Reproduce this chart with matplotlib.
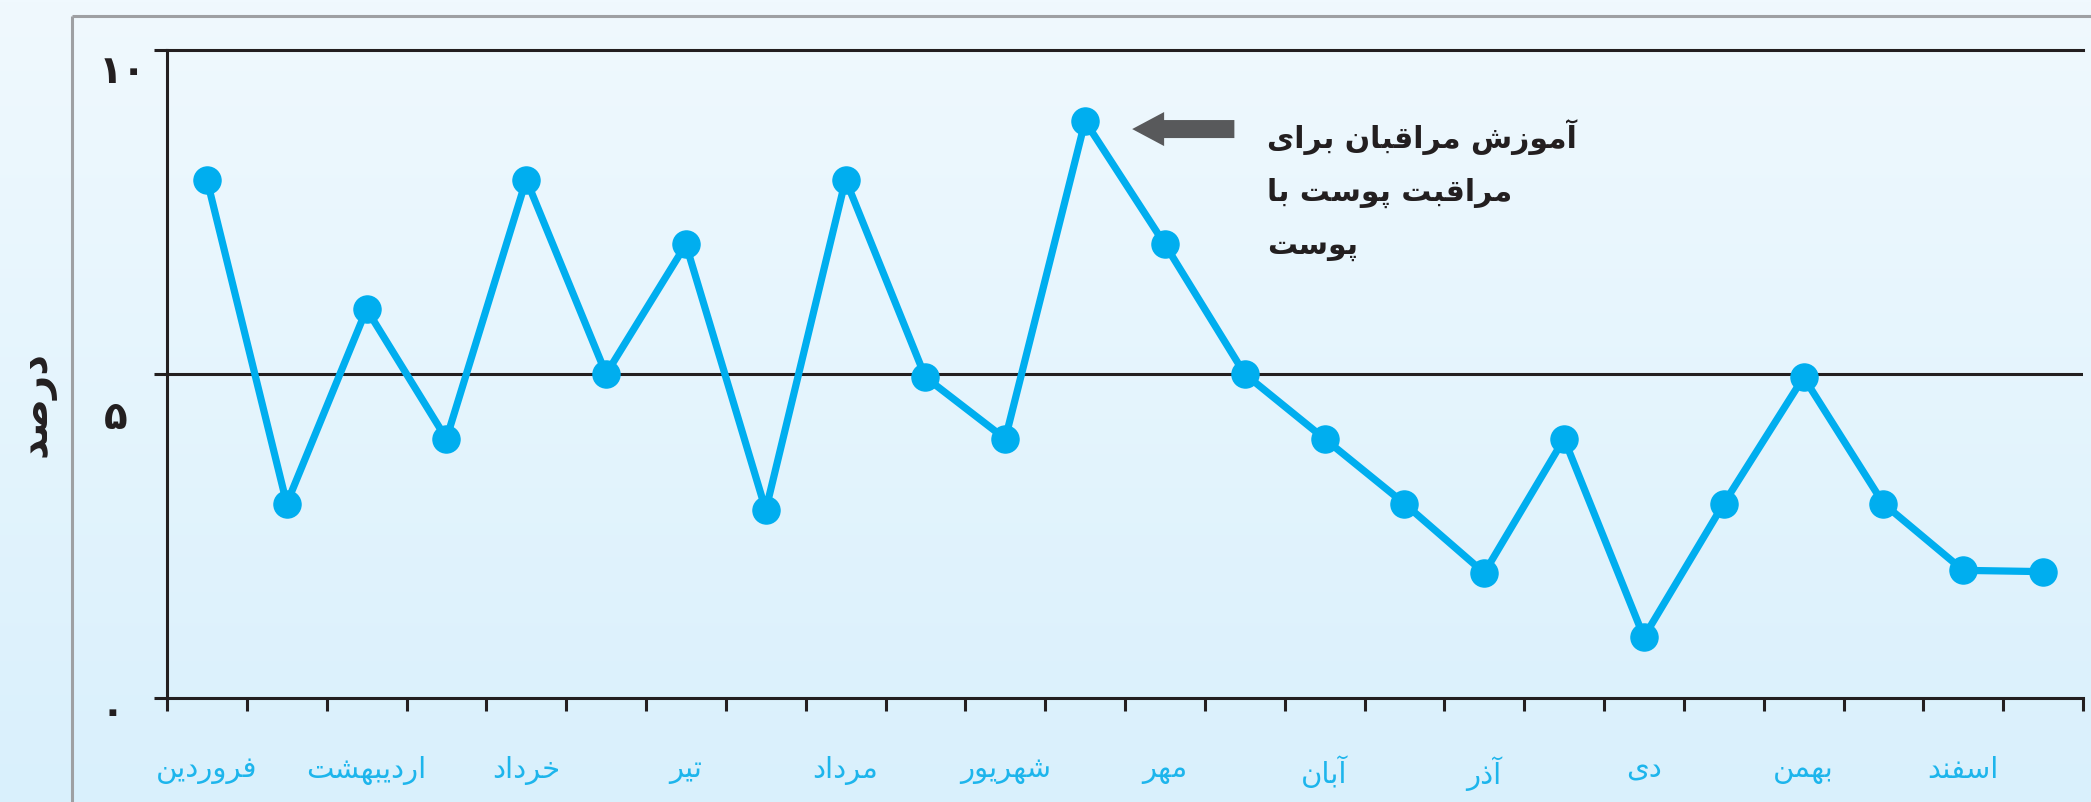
import numpy as np
import matplotlib
matplotlib.use("Agg")
import matplotlib.pyplot as plt
from matplotlib.patches import FancyArrow

# half-month points (24), values in percent
values = [8, 3, 6, 4, 8, 5, 7, 2.9, 8, 4.95, 4, 8.9,
          7, 5, 4, 3, 1.93, 4, 0.94, 3, 4.95, 3, 1.97, 1.95]
months = ["فروردین", "اردیبهشت", "خرداد", "تیر", "مرداد", "شهریور",
          "مهر", "آبان", "آذر", "دی", "بهمن", "اسفند"]
y_ticks = [0, 5, 10]
y_tick_labels = ["۰", "۵", "۱۰"]
y_label = "درصد"
note_lines = ["آموزش مراقبان برای", "مراقبت پوست با", "پوست"]

# presentation forms: isolated, final, initial, medial
FORMS = {
    'ا': ('\uFE8D', '\uFE8E', None, None),
    'آ': ('\uFE81', '\uFE82', None, None),
    'د': ('\uFEA9', '\uFEAA', None, None),
    'ذ': ('\uFEAB', '\uFEAC', None, None),
    'ر': ('\uFEAD', '\uFEAE', None, None),
    'ز': ('\uFEAF', '\uFEB0', None, None),
    'و': ('\uFEED', '\uFEEE', None, None),
    'ب': ('\uFE8F', '\uFE90', '\uFE91', '\uFE92'),
    'پ': ('\uFB56', '\uFB57', '\uFB58', '\uFB59'),
    'ت': ('\uFE95', '\uFE96', '\uFE97', '\uFE98'),
    'خ': ('\uFEA5', '\uFEA6', '\uFEA7', '\uFEA8'),
    'س': ('\uFEB1', '\uFEB2', '\uFEB3', '\uFEB4'),
    'ش': ('\uFEB5', '\uFEB6', '\uFEB7', '\uFEB8'),
    'ص': ('\uFEB9', '\uFEBA', '\uFEBB', '\uFEBC'),
    'ف': ('\uFED1', '\uFED2', '\uFED3', '\uFED4'),
    'ق': ('\uFED5', '\uFED6', '\uFED7', '\uFED8'),
    'م': ('\uFEE1', '\uFEE2', '\uFEE3', '\uFEE4'),
    'ن': ('\uFEE5', '\uFEE6', '\uFEE7', '\uFEE8'),
    'ه': ('\uFEE9', '\uFEEA', '\uFEEB', '\uFEEC'),
    'ی': ('\uFBFC', '\uFBFD', '\uFBFE', '\uFBFF'),
}


def fa(text):
    # join letters and flip to visual order
    out = []
    for i, c in enumerate(text):
        if c not in FORMS:
            out.append(c)
            continue
        prev = text[i - 1] if i > 0 else None
        nxt = text[i + 1] if i < len(text) - 1 else None
        jp = prev in FORMS and FORMS[prev][2] is not None
        jn = nxt in FORMS and FORMS[c][2] is not None
        f = FORMS[c]
        if jp and jn:
            out.append(f[3])
        elif jp:
            out.append(f[1])
        elif jn:
            out.append(f[2])
        else:
            out.append(f[0])
    return ''.join(out)[::-1]


plt.rcParams['font.family'] = ['DejaVu Sans']
W, H = 2091, 803
fig = plt.figure(figsize=(W / 100, H / 100), dpi=100)

# background gradient and grey frame
bg = fig.add_axes([0, 0, 1, 1], zorder=-5)
top = np.array([240, 249, 254]) / 255
bot = np.array([217, 240, 252]) / 255
t = np.linspace(0, 1, 256)[:, None, None]
grad = top * (1 - t) + bot * t
bg.imshow(grad, extent=[0, W, H, 0], aspect='auto')
bg.plot([72, 72], [H, 17], color='#9EA0A3', lw=2.2, solid_capstyle='butt')
bg.plot([72, W], [17, 17], color='#9EA0A3', lw=2.2, solid_capstyle='butt')
bg.set_xlim(0, W)
bg.set_ylim(H, 0)
bg.axis('off')

ax = fig.add_axes([167 / W, 1 - 699 / H, (2083 - 167) / W, (699 - 51) / H])
ax.set_facecolor('none')
dark = '#231F20'
blue = '#00AEEF'

x = np.arange(len(values)) + 0.5
ax.plot(x, values, color=blue, lw=5.2, marker='o', ms=19.5, mec=blue, mfc=blue,
        clip_on=False, zorder=5)

ax.set_xlim(0, 24)
ax.set_ylim(0, 10)
for s in ['left', 'bottom', 'top']:
    ax.spines[s].set_color(dark)
    ax.spines[s].set_linewidth(2.2)
ax.spines['right'].set_visible(False)
ax.axhline(5, color=dark, lw=2.2, zorder=1)

ax.set_yticks(y_ticks)
ax.set_yticklabels([])
ax.tick_params(axis='y', length=9.4, width=2.2, color=dark)

ax.set_xticks(np.arange(25), minor=True)
ax.set_xticks(np.arange(12) * 2 + 0.5)
ax.set_xticklabels([fa(m) for m in months], color='#1DB5EC', fontsize=21)
ax.tick_params(axis='x', which='major', length=0, pad=41)
ax.tick_params(axis='x', which='minor', length=9.4, width=2.2, color=dark)

offsets = {0: (-39, -10), 5: (-37, -31), 10: (-32, -15)}
for v, lab in zip(y_ticks, y_tick_labels):
    ax.annotate(lab, xy=(0, v), xytext=offsets[v], textcoords='offset points',
                ha='center', va='center', fontsize=28, fontweight='bold',
                color=dark, annotation_clip=False)

fig.text(36 / W, 1 - 404 / H, fa(y_label), rotation=90, ha='center', va='center',
         fontsize=29, fontweight='bold', color=dark)

# note with arrow pointing at the peak
arrow = FancyArrow(13.37, 8.78, -1.28, 0, width=0.278, head_width=0.525,
                   head_length=0.40, length_includes_head=True,
                   color='#58595B', lw=0, clip_on=False)
ax.add_patch(arrow)
ax.text(13.78, 8.95, '\n'.join(fa(l) for l in note_lines), ha='left', va='top',
        fontsize=21.5, fontweight='bold', color=dark, linespacing=2.0)

fig.savefig('out.png', dpi=100)
